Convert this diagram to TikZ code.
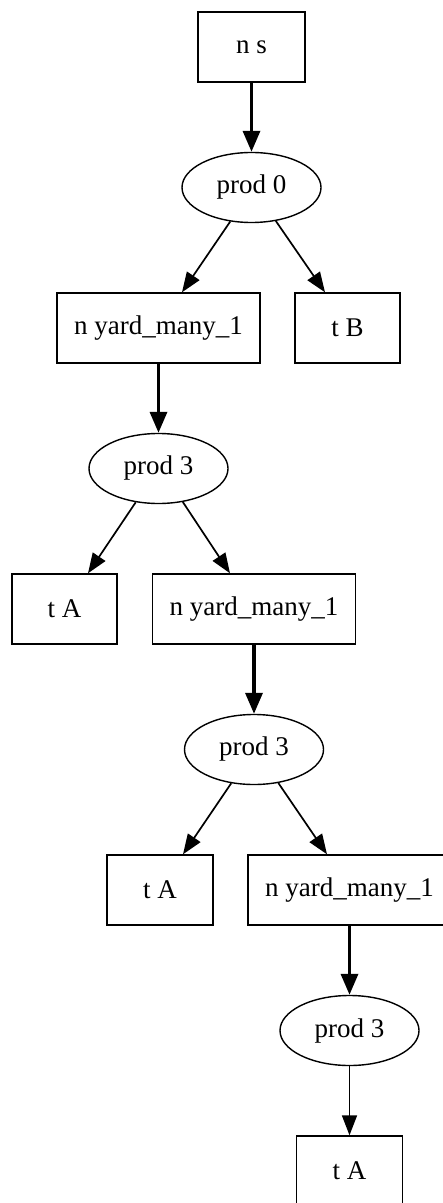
\documentclass[tikz,border=0pt]{standalone}
\usepackage{fontspec}
\setmainfont{Liberation Serif}
\usetikzlibrary{shapes.geometric,arrows.meta,calc}
\begin{document}
\begin{tikzpicture}[x=0.5pt,y=-0.5pt,
 every node/.style={font=\fontsize{13.5}{16}\selectfont},
 gbox/.style={draw, rectangle, minimum height=35pt, inner sep=0pt, line width=0.7pt},
 gell/.style={draw, ellipse, minimum width=69.5pt, minimum height=35pt, inner sep=0pt, line width=0.7pt},
 edgeN/.style={line width=0.85pt, -{Triangle[length=10pt,width=7.5pt]}},
 edgeB/.style={line width=1.7pt, -{Triangle[length=10.5pt,width=8.5pt]}}]
\useasboundingbox (0,0) rectangle (443,1203);
\clip (0,0) rectangle (443,1203);
\fill[white] (0,0) rectangle (443,1203);
\node[gbox, minimum width=53.5pt] (ns) at (251.5,47) {n s};
\node[gell] (p0) at (251.5,187.5) {prod 0};
\node[gbox, minimum width=101.5pt] (y1) at (158.5,328) {n yard\_many\_1};
\node[gbox, minimum width=52.5pt] (tB) at (347.5,328) {t B};
\node[gell] (p3a) at (158.5,468.5) {prod 3};
\node[gbox, minimum width=52.5pt] (tA1) at (64.5,609) {t A};
\node[gbox, minimum width=101.5pt] (y2) at (254,609) {n yard\_many\_1};
\node[gell] (p3b) at (254,749.5) {prod 3};
\node[gbox, minimum width=53pt] (tA2) at (160,890) {t A};
\node[gbox, minimum width=101.5pt] (y3) at (349.5,890) {n yard\_many\_1};
\node[gell] (p3c) at (349.5,1030.5) {prod 3};
\node[gbox, minimum width=53pt] (tA3) at (349.5,1171) {t A};
\draw[edgeB] (ns) -- (p0);
\draw[edgeN] (p0.238) -- ($(y1.north)+(23.5,0)$);
\draw[edgeN] (p0.306) -- ($(tB.north)+(-22.5,0)$);
\draw[edgeB] (y1) -- (p3a);
\draw[edgeN] (p3a.236) -- ($(tA1.north)+(23.5,0)$);
\draw[edgeN] (p3a.306) -- ($(y2.north)+(-24,0)$);
\draw[edgeB] (y2) -- (p3b);
\draw[edgeN] (p3b.236) -- ($(tA2.north)+(23,0)$);
\draw[edgeN] (p3b.306) -- ($(y3.north)+(-22.5,0)$);
\draw[edgeB] (y3) -- (p3c);
\draw[edgeN] (p3c) -- (tA3);
\end{tikzpicture}
\end{document}
